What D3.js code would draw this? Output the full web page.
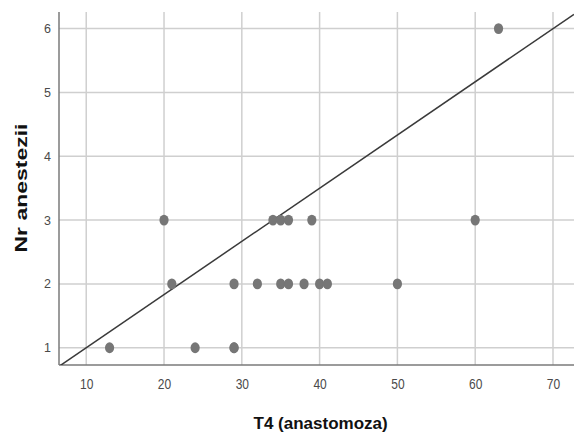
<!DOCTYPE html>
<html>
<head>
<meta charset="utf-8">
<script src="https://cdn.jsdelivr.net/npm/d3@7"></script>
<style>
  body { margin: 0; background: #fff; }
  svg { display: block; font-family: "Liberation Sans", Arial, sans-serif; }
</style>
</head>
<body>
<div id="chart"></div>
<script>
// data
const t4Values   = [13, 24, 29, 29, 21, 29, 32, 35, 36, 38, 40, 41, 50, 20, 34, 35, 36, 39, 60, 63];
const nrAnest    = [ 1,  1,  1,  1,  2,  2,  2,  2,  2,  2,  2,  2,  2,  3,  3,  3,  3,  3,  3,  6];
const xTicks = [10, 20, 30, 40, 50, 60, 70];
const yTicks = [1, 2, 3, 4, 5, 6];
const fitIntercept = 0.1667;
const fitSlope = 0.08333;

const points = t4Values.map((v, i) => ({x: v, y: nrAnest[i]}));

// set the dimensions and margins of the graph
const W = 574, H = 436;
const margin = {top: 12, right: 0, bottom: 71, left: 59},
    width = W - margin.left - margin.right,
    height = H - margin.top - margin.bottom;

const svg = d3.select("#chart")
    .append("svg")
    .attr("width", W)
    .attr("height", H);

const g = svg.append("g")
    .attr("transform", `translate(${margin.left}, ${margin.top})`);

const x = d3.scaleLinear().domain([6.5, 72.7]).range([0, width]);
const y = d3.scaleLinear().domain([0.73, 6.26]).range([height, 0]);

// grid
g.append("g")
    .selectAll("line")
    .data(xTicks)
    .join("line")
    .attr("x1", d => x(d)).attr("x2", d => x(d))
    .attr("y1", 0).attr("y2", height)
    .style("stroke", "#cfcfcf")
    .style("stroke-width", 1.5);

g.append("g")
    .selectAll("line")
    .data(yTicks)
    .join("line")
    .attr("x1", 0).attr("x2", width)
    .attr("y1", d => y(d)).attr("y2", d => y(d))
    .style("stroke", "#cfcfcf")
    .style("stroke-width", 1.5);

// axes (no tick marks, just labels)
const xAxis = g.append("g")
    .attr("transform", `translate(0, ${height})`)
    .call(d3.axisBottom(x).tickValues(xTicks).tickFormat(d3.format("d")).tickSize(0).tickPadding(12));
xAxis.select(".domain").remove();
xAxis.selectAll("text")
    .style("font-size", "12px")
    .style("fill", "#4a4a4a")
    .attr("transform", "scale(1,1.15)");

const yAxis = g.append("g")
    .call(d3.axisLeft(y).tickValues(yTicks).tickFormat(d3.format("d")).tickSize(0).tickPadding(8));
yAxis.select(".domain").remove();
yAxis.selectAll("text")
    .style("font-size", "12.5px")
    .style("fill", "#4a4a4a");

g.append("line")
    .attr("x1", 0).attr("x2", 0).attr("y1", 0).attr("y2", height)
    .style("stroke", "#7a7a7a").style("stroke-width", 1.5);
g.append("line")
    .attr("x1", 0).attr("x2", width).attr("y1", height).attr("y2", height)
    .style("stroke", "#7a7a7a").style("stroke-width", 1.5);

// fit line, clipped to the plot area
g.append("clipPath").attr("id", "plotClip")
    .append("rect").attr("width", width).attr("height", height);

const xd = x.domain();
g.append("line")
    .attr("clip-path", "url(#plotClip)")
    .attr("x1", x(xd[0])).attr("y1", y(fitIntercept + fitSlope * xd[0]))
    .attr("x2", x(xd[1])).attr("y2", y(fitIntercept + fitSlope * xd[1]))
    .style("stroke", "#3a3a3a")
    .style("stroke-width", 1.5);

// the dots
g.append("g")
    .selectAll("ellipse")
    .data(points)
    .join("ellipse")
    .attr("cx", d => x(d.x))
    .attr("cy", d => y(d.y))
    .attr("rx", 4.6)
    .attr("ry", 5.4)
    .style("fill", "#767676");

// axis titles
svg.append("text")
    .attr("x", margin.left + x(40) + 1)
    .attr("y", 429)
    .attr("text-anchor", "middle")
    .style("font-size", "17px")
    .style("font-weight", "bold")
    .style("fill", "#111")
    .text("T4 (anastomoza)");

svg.append("text")
    .attr("transform", `translate(27, ${188}) rotate(-90)`)
    .attr("text-anchor", "middle")
    .attr("textLength", 129)
    .attr("lengthAdjust", "spacingAndGlyphs")
    .style("font-size", "17px")
    .style("font-weight", "bold")
    .style("fill", "#111")
    .text("Nr anestezii");
</script>
</body>
</html>
